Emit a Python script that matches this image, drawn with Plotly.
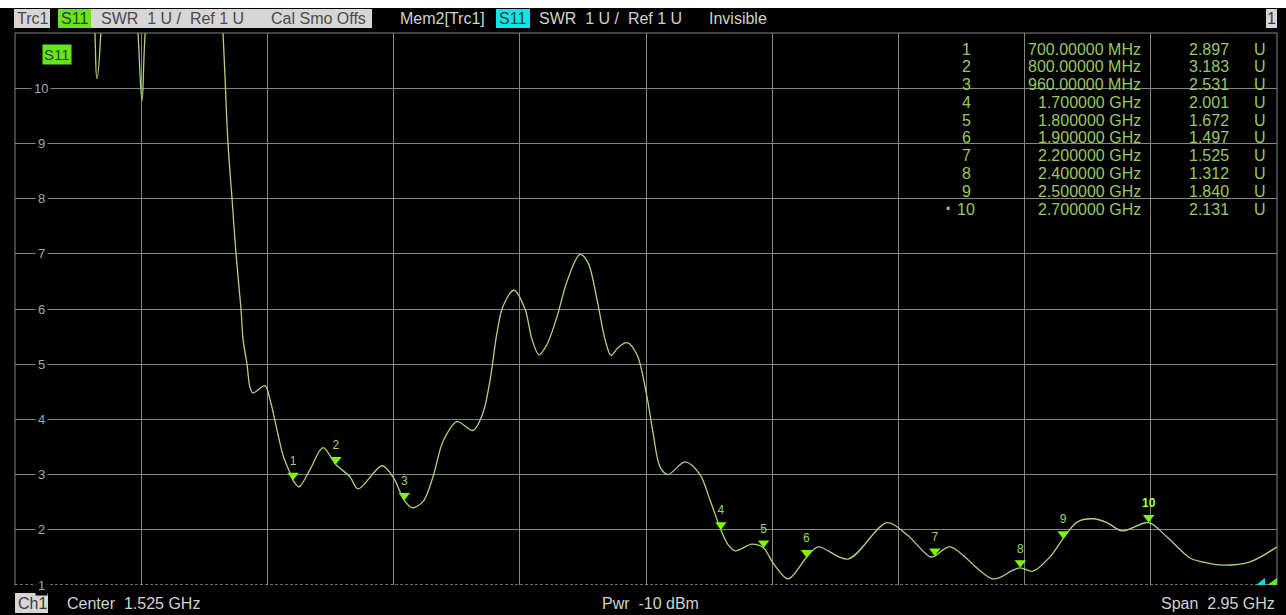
import plotly.graph_objects as go

# ---------------- data ----------------
freq_ghz = [0.05, 0.12, 0.2206, 0.2417, 0.262, 0.30, 0.3328, 0.3469, 0.3609, 0.44,
            0.52, 0.5362, 0.5479, 0.5573, 0.5666, 0.5783, 0.583, 0.5923, 0.5993, 0.6063,
            0.6344, 0.6461, 0.6624, 0.6765, 0.6928, 0.70, 0.7139, 0.7396, 0.7700, 0.80,
            0.8331, 0.8518, 0.9079, 0.9336, 0.96, 0.978, 1.0037, 1.0271, 1.0505, 1.0832,
            1.1206, 1.1440, 1.1603, 1.1767, 1.1907, 1.2164, 1.2422, 1.2585, 1.2749, 1.2936,
            1.3170, 1.3403, 1.3707, 1.3894, 1.4105, 1.4292, 1.4432, 1.4596, 1.4806, 1.5040,
            1.5273, 1.5414, 1.5578, 1.5764, 1.6162, 1.6512, 1.6746, 1.70, 1.7167, 1.7330,
            1.7728, 1.80, 1.8218, 1.8569, 1.90, 1.9271, 1.9972, 2.0883, 2.1351, 2.1889,
            2.20, 2.2356, 2.3361, 2.3829, 2.40, 2.4296, 2.4694, 2.50, 2.5325, 2.5699,
            2.6026, 2.6377, 2.70, 2.7429, 2.7966, 2.8364, 2.8738, 2.9369, 3.0]
swr = [14, 13, 12.0, 10.17, 12.0, 13, 11.5, 9.77, 11.5, 13.5,
       13, 11.0, 9.0, 8.0, 7.0, 6.0, 5.45, 5.0, 4.58, 4.48,
       4.61, 4.36, 3.81, 3.35, 3.03, 2.897, 2.78, 3.09, 3.49, 3.183,
       2.96, 2.74, 3.16, 2.96, 2.531, 2.40, 2.51, 2.96, 3.6, 3.96,
       3.80, 4.12, 4.7, 5.57, 6.05, 6.34, 6.0, 5.45, 5.17, 5.36,
       5.86, 6.5, 6.99, 6.84, 6.17, 5.45, 5.16, 5.30, 5.39, 5.17,
       4.41, 3.76, 3.14, 3.0, 3.23, 3.0, 2.54, 2.001, 1.73, 1.62,
       1.74, 1.672, 1.40, 1.11, 1.497, 1.69, 1.47, 2.13, 1.91, 1.51,
       1.525, 1.69, 1.11, 1.27, 1.312, 1.25, 1.51, 1.84, 2.14, 2.20,
       2.13, 1.98, 2.131, 1.87, 1.49, 1.40, 1.36, 1.42, 1.69]

marker_ids = ["1", "2", "3", "4", "5", "6", "7", "8", "9", "10"]
marker_freq = [0.70, 0.80, 0.96, 1.70, 1.80, 1.90, 2.20, 2.40, 2.50, 2.70]
marker_swr = [2.897, 3.183, 2.531, 2.001, 1.672, 1.497, 1.525, 1.312, 1.840, 2.131]
marker_freq_text = ["700.00000 MHz", "800.00000 MHz", "960.00000 MHz", "1.700000 GHz",
                    "1.800000 GHz", "1.900000 GHz", "2.200000 GHz", "2.400000 GHz",
                    "2.500000 GHz", "2.700000 GHz"]
marker_swr_text = ["2.897", "3.183", "2.531", "2.001", "1.672", "1.497", "1.525",
                   "1.312", "1.840", "2.131"]
y_ticks = [1, 2, 3, 4, 5, 6, 7, 8, 9, 10]

f_start, f_stop = 0.05, 3.0
y_min, y_max = 1, 11

# ---------------- geometry helpers ----------------
L, R, T, B = 15, 1277, 33, 585
W, H = R - L, B - T
FONT = "Liberation Sans, Arial, sans-serif"
TRACE = "#aed37a"
MK = "#7cf800"
TABLE = "#98c862"
GRID = "#858585"
LIGHT = "#d2d2d2"


def px(x):
    return (x - L) / W


def py(y):
    return (B - y) / H


fig = go.Figure()
fig.add_trace(go.Scatter(x=freq_ghz, y=swr, mode="lines",
                         line=dict(color=TRACE, width=1.3, shape="spline", smoothing=0.9),
                         hoverinfo="skip", showlegend=False))

# markers on a slightly shifted twin axis so the triangle tip sits on the trace
MSIZE = 10
shift = (MSIZE / 2.0) * (y_max - y_min) / H
mk_text = [("<b>%s</b>" % m if m == "10" else m) for m in marker_ids]
mk_colors = [("#b4ff3c" if m == "10" else "#9ad860") for m in marker_ids]
fig.add_trace(go.Scatter(x=marker_freq, y=marker_swr, yaxis="y2", mode="markers+text",
                         marker=dict(symbol="triangle-down", size=MSIZE, color=MK,
                                     line=dict(width=0)),
                         text=mk_text, textposition="top center",
                         textfont=dict(family=FONT, size=12, color=mk_colors),
                         hoverinfo="skip", showlegend=False, cliponaxis=False))

fig.update_layout(
    width=1286, height=615,
    margin=dict(l=L, r=1286 - R, t=T, b=615 - B, pad=0),
    paper_bgcolor="black", plot_bgcolor="black",
    font=dict(family=FONT, color=LIGHT),
    xaxis=dict(range=[f_start, f_stop], tick0=f_start, dtick=(f_stop - f_start) / 10,
               showgrid=True, gridcolor=GRID, gridwidth=1, showticklabels=False,
               zeroline=False, showline=False, ticks=""),
    yaxis=dict(range=[y_min, y_max], tickvals=[v for v in range(2, 12)],
               showgrid=True, gridcolor=GRID, gridwidth=1, showticklabels=False,
               zeroline=False, showline=False, ticks=""),
    yaxis2=dict(range=[y_min - shift, y_max - shift], overlaying="y", visible=False),
)

shapes = []
# white strip at very top of the screenshot
shapes.append(dict(type="rect", xref="paper", yref="paper", x0=px(0), x1=px(1286),
                   y0=py(8), y1=py(0), fillcolor="white", line=dict(width=0), layer="below"))
# borders
for (x0, y0, x1, y1) in [(L, T, R, T), (L, T, L, B), (R, T, R, B)]:
    shapes.append(dict(type="line", xref="paper", yref="paper", x0=px(x0), x1=px(x1),
                       y0=py(y0), y1=py(y1), line=dict(color=GRID, width=1)))
# reference line (dashed) at 1 U
shapes.append(dict(type="line", xref="paper", yref="y", x0=0, x1=1, y0=y_min, y1=y_min,
                   line=dict(color="#d8d8d8", width=1, dash="3px,2px")))
# header boxes
for (x0, x1, col) in [(14, 50, "#d6d6d6"), (58, 91, "#66e61c"), (91, 372, "#d6d6d6"),
                      (496, 530, "#10e6e6"), (1266, 1277, "#d6d6d6")]:
    shapes.append(dict(type="rect", xref="paper", yref="paper", x0=px(x0), x1=px(x1),
                       y0=py(28), y1=py(9), fillcolor=col, line=dict(width=0)))
# footer Ch1 box
shapes.append(dict(type="rect", xref="paper", yref="paper", x0=px(15), x1=px(48),
                   y0=py(613), y1=py(593), fillcolor="#d6d6d6", line=dict(width=0)))
# small status triangles bottom-right
for (x0, x1, col) in [(1256, 1265, "#18d8e8"), (1267, 1277, "#66e61c")]:
    path = "M %f %f L %f %f L %f %f Z" % (px(x0), py(585), px(x1), py(585), px(x1), py(578))
    shapes.append(dict(type="path", xref="paper", yref="paper", path=path,
                       fillcolor=col, line=dict(width=0)))
fig.update_layout(shapes=shapes)

ann = []


def text(x, y, s, color=LIGHT, size=16, anchor="left", bg=None, yref="paper", pad=0):
    d = dict(x=px(x), y=(py(y) if yref == "paper" else y), xref="paper", yref=yref, text=s,
             showarrow=False, xanchor=anchor, yanchor="middle",
             font=dict(family=FONT, size=size, color=color), borderpad=pad)
    if bg:
        d["bgcolor"] = bg
    ann.append(d)


# header
text(16, 18.5, "Trc1", color="#4a4a4a")
text(60, 18.5, "S11", color="#3a3a3a")
text(100, 18.5, "SWR&nbsp;&nbsp;1 U /&nbsp;&nbsp;Ref 1 U", color="#4a4a4a")
text(270, 18.5, "Cal Smo Offs", color="#4a4a4a")
text(399, 18.5, "Mem2[Trc1]", color=LIGHT)
text(498, 18.5, "S11", color="#3a3a3a")
text(538, 18.5, "SWR&nbsp;&nbsp;1 U /&nbsp;&nbsp;Ref 1 U", color=LIGHT)
text(708, 18.5, "Invisible", color=LIGHT)
text(1271.5, 18.5, "1", color="#3a3a3a", anchor="center")
# footer
text(17, 603, "Ch1", color="#3a3a3a")
text(66, 603, "Center&nbsp;&nbsp;1.525 GHz", color=LIGHT)
text(650, 603, "Pwr&nbsp;&nbsp;-10 dBm", color=LIGHT, anchor="center")
text(1276, 603, "Span&nbsp;&nbsp;2.95 GHz", color=LIGHT, anchor="right")
# trace label in plot
text(56.5, 55, "S11", color="#3a3a3a", size=15, anchor="center", bg="#66e61c", pad=1)
# y tick labels drawn over grid with black gap
for v in y_ticks:
    text(41, v, str(v), color="#a8a8a8", size=13, anchor="center", bg="black",
         yref="y", pad=2)
# marker table
row0, dy = 49.0, 17.78
for i, mid in enumerate(marker_ids):
    yy = row0 + i * dy
    text(966, yy, mid, color=TABLE, anchor="center")
    text(1142, yy, marker_freq_text[i], color=TABLE, anchor="right")
    text(1230, yy, marker_swr_text[i], color=TABLE, anchor="right")
    text(1260, yy, "U", color=TABLE, anchor="center")
text(948, row0 + 9 * dy, "•", color=TABLE, size=12, anchor="center")

fig.update_layout(annotations=ann)
fig.write_html("out.html", config={"displayModeBar": False},
               post_script="document.body.style.margin='0';document.body.style.overflow='hidden';")
